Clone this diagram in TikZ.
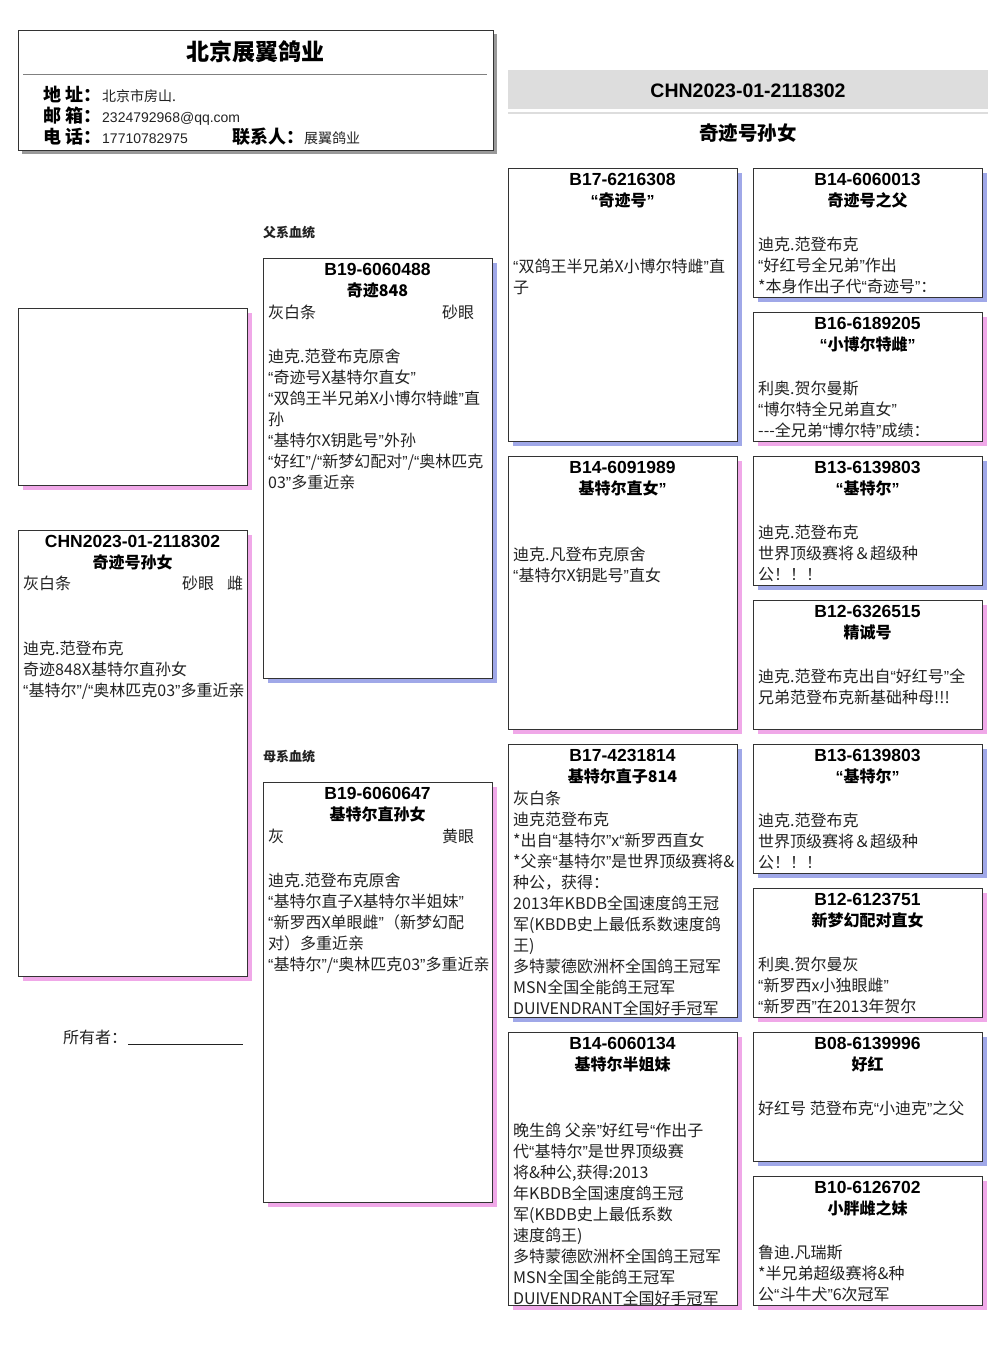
\documentclass[tikz,border=0pt]{standalone}
\usepackage{fontspec}
\setmainfont{Noto Sans CJK SC}
\newfontfamily\latf{Liberation Sans}
\usetikzlibrary{shadows}
\definecolor{blueS}{HTML}{A0A8E8}
\definecolor{pinkS}{HTML}{F0A8E8}
\definecolor{grayS}{HTML}{999999}
\definecolor{bdr}{HTML}{333333}
\definecolor{txt}{HTML}{222222}
\definecolor{band}{HTML}{DDDDDD}
\newcommand\LQ{{\latf “}}
\newcommand\RQ{{\latf ”}}
\tikzset{
  cbox/.style={draw=bdr, line width=0.8pt, fill=white, anchor=north west, minimum width=229pt, inner sep=0pt, outer sep=0pt, drop shadow={shadow xshift=5pt, shadow yshift=-5pt, fill=#1, opacity=1}},
  titletxt/.style={font=\latf\bfseries\fontsize{17.5}{20}\selectfont, anchor=base, inner sep=0pt, text=black},
  nametxt/.style={font=\bfseries\fontsize{16}{20}\selectfont, anchor=base, inner sep=0pt, text=black},
  bodytxt/.style={font=\fontsize{16}{21}\selectfont, anchor=base west, inner sep=0pt, align=left, text=txt},
  sectxt/.style={font=\bfseries\fontsize{13}{16}\selectfont, anchor=base west, inner sep=0pt, text=txt},
  lbltxt/.style={font=\bfseries\fontsize{18}{20}\selectfont, anchor=base west, inner sep=0pt, text=black},
  valtxt/.style={font=\fontsize{14}{16}\selectfont, anchor=base west, inner sep=0pt, text=txt},
}
\begin{document}
\begin{tikzpicture}[x=1pt,y=-1pt]
\useasboundingbox (0,0) rectangle (1006,1366);

% ---------- header box ----------
\node[draw=bdr, line width=0.8pt, fill=white, anchor=north west, minimum width=475pt, minimum height=120pt, inner sep=0pt, drop shadow={shadow xshift=4pt, shadow yshift=-4pt, fill=grayS, opacity=1}] (hdr) at (18,30) {};
\node[font=\bfseries\fontsize{23}{26}\selectfont, anchor=base, inner sep=0pt] (hdrt) at (255.5,60) {北京展翼鸽业};
\coordinate (r1) at (23,74); \coordinate (r2) at (487,74);
\draw[gray, line width=0.8pt] (r1) -- (r2);
\node[lbltxt] (l1) at (43,101) {地 址：};
\node[lbltxt] (l2) at (43,122) {邮 箱：};
\node[lbltxt] (l3) at (43,143) {电 话：};
\node[valtxt] (v1) at (102,101) {北京市房山.};
\node[valtxt, font=\latf\fontsize{14}{16}\selectfont] (v2) at (102,122) {2324792968@qq.com};
\node[valtxt, font=\latf\fontsize{14}{16}\selectfont] (v3) at (102,143) {17710782975};
\node[lbltxt] (l4) at (232,143) {联系人：};
\node[valtxt] (v4) at (304,143) {展翼鸽业};

% ---------- right header ----------
\node[fill=band, anchor=north west, minimum width=480pt, minimum height=39pt, inner sep=0pt] (bandbox) at (508,70) {};
\node[fill=band, anchor=north west, minimum width=480pt, minimum height=2pt, inner sep=0pt] (bandline) at (508,112) {};
\node[font=\latf\bfseries\fontsize{19.5}{22}\selectfont, anchor=base, inner sep=0pt] (ring) at (748,97) {CHN2023-01-2118302};
\node[font=\bfseries\fontsize{19.5}{22}\selectfont, anchor=base, inner sep=0pt] (rname) at (748,140) {奇迹号孙女};

% ---------- column 1 ----------
\node[cbox=pinkS, minimum height=177pt] (photo) at (18,308) {};
\node[cbox=pinkS, minimum height=446pt] (self) at (18,530) {};
\node[titletxt] (selft) at (132.5,547) {CHN2023-01-2118302};
\node[nametxt] (selfn) at (132.5,568) {奇迹号孙女};
\node[bodytxt] (selfc) at (23,589) {灰白条};
\node[bodytxt] (selfe) at (182,589) {砂眼};
\node[bodytxt] (selfs) at (227,589) {雌};
\node[bodytxt] (selfb) at (23,696) {迪克.范登布克\\奇迹848X基特尔直孙女\\\LQ 基特尔\RQ/\LQ 奥林匹克03\RQ 多重近亲};
\node[font=\fontsize{16}{20}\selectfont, anchor=base west, inner sep=0pt, text=txt] (owner) at (63,1043) {所有者：};
\node[anchor=base west, inner sep=0pt, text=txt] (ownline) at (128,1045) {\rule{115pt}{0.8pt}};

% ---------- column 2 ----------
\node[sectxt] (sec1) at (263,237) {父系血统};
\node[cbox=blueS, minimum height=420pt] (sire) at (263,258) {};
\node[titletxt] (siret) at (377.5,275) {B19-6060488};
\node[nametxt] (siren) at (377.5,296) {奇迹848};
\node[bodytxt] (sirec) at (268,318) {灰白条};
\node[bodytxt] (siree) at (442,318) {砂眼};
\node[bodytxt] (sireb) at (268,488) {迪克.范登布克原舍\\\LQ 奇迹号X基特尔直女\RQ\\\LQ 双鸽王半兄弟X小博尔特雌\RQ 直\\孙\\\LQ 基特尔X钥匙号\RQ 外孙\\\LQ 好红\RQ/\LQ 新梦幻配对\RQ/\LQ 奥林匹克\\03\RQ 多重近亲};

\node[sectxt] (sec2) at (263,761) {母系血统};
\node[cbox=pinkS, minimum height=420pt] (dam) at (263,782) {};
\node[titletxt] (damt) at (377.5,799) {B19-6060647};
\node[nametxt] (damn) at (377.5,820) {基特尔直孙女};
\node[bodytxt] (damc) at (268,842) {灰};
\node[bodytxt] (dame) at (442,842) {黄眼};
\node[bodytxt] (damb) at (268,970) {迪克.范登布克原舍\\\LQ 基特尔直子X基特尔半姐妹\RQ\\\LQ 新罗西X单眼雌\RQ（新梦幻配\\对）多重近亲\\\LQ 基特尔\RQ/\LQ 奥林匹克03\RQ 多重近亲};

% ---------- column 3 ----------
\node[cbox=blueS, minimum height=273pt] (ss) at (508,168) {};
\node[titletxt] (sst) at (622.5,185) {B17-6216308};
\node[nametxt] (ssn) at (622.5,206) {\LQ 奇迹号\RQ};
\node[bodytxt] (ssb) at (513,293) {\LQ 双鸽王半兄弟X小博尔特雌\RQ 直\\子};

\node[cbox=pinkS, minimum height=273pt] (sd) at (508,456) {};
\node[titletxt] (sdt) at (622.5,473) {B14-6091989};
\node[nametxt] (sdn) at (622.5,494) {基特尔直女\RQ};
\node[bodytxt] (sdb) at (513,581) {迪克.凡登布克原舍\\\LQ 基特尔X钥匙号\RQ 直女};

\node[cbox=blueS, minimum height=273pt] (ds) at (508,744) {};
\node[titletxt] (dst) at (622.5,761) {B17-4231814};
\node[nametxt] (dsn) at (622.5,782) {基特尔直子814};
\node[bodytxt] (dsb) at (513,1014) {灰白条\\迪克范登布克\\*出自\LQ 基特尔\RQ x\LQ 新罗西直女\\*父亲\LQ 基特尔\RQ 是世界顶级赛将\&\\种公，获得：\\2013年KBDB全国速度鸽王冠\\军(KBDB史上最低系数速度鸽\\王)\\多特蒙德欧洲杯全国鸽王冠军\\MSN全国全能鸽王冠军\\DUIVENDRANT全国好手冠军};

\node[cbox=pinkS, minimum height=273pt] (dd) at (508,1032) {};
\node[titletxt] (ddt) at (622.5,1049) {B14-6060134};
\node[nametxt] (ddn) at (622.5,1070) {基特尔半姐妹};
\node[bodytxt] (ddb) at (513,1304) {晚生鸽 父亲\RQ 好红号\LQ 作出子\\代\LQ 基特尔\RQ 是世界顶级赛\\将\&种公,获得:2013\\年KBDB全国速度鸽王冠\\军(KBDB史上最低系数\\速度鸽王)\\多特蒙德欧洲杯全国鸽王冠军\\MSN全国全能鸽王冠军\\DUIVENDRANT全国好手冠军};

% ---------- column 4 ----------
\node[cbox=blueS, minimum height=129pt] (g1) at (753,168) {};
\node[titletxt] (g1t) at (867.5,185) {B14-6060013};
\node[nametxt] (g1n) at (867.5,206) {奇迹号之父};
\node[bodytxt] (g1b) at (758,292) {迪克.范登布克\\\LQ 好红号全兄弟\RQ 作出\\*本身作出子代\LQ 奇迹号\RQ：};

\node[cbox=pinkS, minimum height=129pt] (g2) at (753,312) {};
\node[titletxt] (g2t) at (867.5,329) {B16-6189205};
\node[nametxt] (g2n) at (867.5,350) {\LQ 小博尔特雌\RQ};
\node[bodytxt] (g2b) at (758,436) {利奥.贺尔曼斯\\\LQ 博尔特全兄弟直女\RQ\\-{}-{}-全兄弟\LQ 博尔特\RQ 成绩：};

\node[cbox=blueS, minimum height=129pt] (g3) at (753,456) {};
\node[titletxt] (g3t) at (867.5,473) {B13-6139803};
\node[nametxt] (g3n) at (867.5,494) {\LQ 基特尔\RQ};
\node[bodytxt] (g3b) at (758,580) {迪克.范登布克\\世界顶级赛将＆超级种\\公！！！};

\node[cbox=pinkS, minimum height=129pt] (g4) at (753,600) {};
\node[titletxt] (g4t) at (867.5,617) {B12-6326515};
\node[nametxt] (g4n) at (867.5,638) {精诚号};
\node[bodytxt] (g4b) at (758,703) {迪克.范登布克出自\LQ 好红号\RQ 全\\兄弟范登布克新基础种母!!!};

\node[cbox=blueS, minimum height=129pt] (g5) at (753,744) {};
\node[titletxt] (g5t) at (867.5,761) {B13-6139803};
\node[nametxt] (g5n) at (867.5,782) {\LQ 基特尔\RQ};
\node[bodytxt] (g5b) at (758,868) {迪克.范登布克\\世界顶级赛将＆超级种\\公！！！};

\node[cbox=pinkS, minimum height=129pt] (g6) at (753,888) {};
\node[titletxt] (g6t) at (867.5,905) {B12-6123751};
\node[nametxt] (g6n) at (867.5,926) {新梦幻配对直女};
\node[bodytxt] (g6b) at (758,1012) {利奥.贺尔曼灰\\\LQ 新罗西x小独眼雌\RQ\\\LQ 新罗西\RQ 在2013年贺尔};

\node[cbox=blueS, minimum height=129pt] (g7) at (753,1032) {};
\node[titletxt] (g7t) at (867.5,1049) {B08-6139996};
\node[nametxt] (g7n) at (867.5,1070) {好红};
\node[bodytxt] (g7b) at (758,1114) {好红号 范登布克\LQ 小迪克\RQ 之父};

\node[cbox=pinkS, minimum height=129pt] (g8) at (753,1176) {};
\node[titletxt] (g8t) at (867.5,1193) {B10-6126702};
\node[nametxt] (g8n) at (867.5,1214) {小胖雌之妹};
\node[bodytxt] (g8b) at (758,1300) {鲁迪.凡瑞斯\\*半兄弟超级赛将\&种\\公\LQ 斗牛犬\RQ 6次冠军};
\end{tikzpicture}
\end{document}
